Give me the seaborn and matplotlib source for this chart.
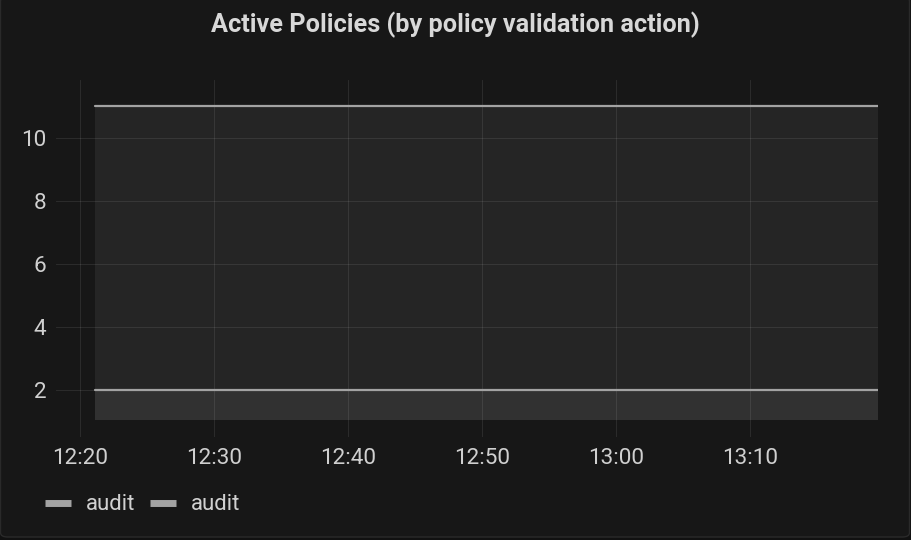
import matplotlib
matplotlib.use("Agg")
import matplotlib.pyplot as plt
import matplotlib.dates as mdates
from matplotlib.lines import Line2D
from matplotlib.patches import FancyBboxPatch
import pandas as pd
import seaborn as sns

# ---- data ----
title = "Active Policies (by policy validation action)"
times = ["2024-01-01 12:21:07", "2024-01-01 13:19:33"]
series_names = ["audit", "audit"]
audit_1 = [11, 11]
audit_2 = [2, 2]
x_view_start = "2024-01-01 12:18:12"
y_ticks = [2, 4, 6, 8, 10]

# ---- style ----
BG = "#171717"
TEXT = "#d0d0d0"
LINE = "#a3a3a3"
FILL_BASE = 1.048
YLIM = (0.508, 11.841)

sns.set_theme(style="dark")
plt.rcParams["font.family"] = ["Roboto", "DejaVu Sans"]

t = pd.to_datetime(times)
df = pd.concat([
    pd.DataFrame({"time": t, "value": audit_1, "series": "s1"}),
    pd.DataFrame({"time": t, "value": audit_2, "series": "s2"}),
])

fig = plt.figure(figsize=(9.12, 5.4), dpi=100, facecolor="#111111")
panel = FancyBboxPatch((0.5 / 912, 3 / 540), 909 / 912, 540 / 540,
                       boxstyle="round,pad=0,rounding_size=0.008",
                       transform=fig.transFigure, facecolor=BG,
                       edgecolor="#2a2a2a", linewidth=1.0, zorder=-5)
fig.patches.append(panel)

ax = fig.add_axes([56 / 912, 1 - 437 / 540, (878 - 56) / 912, (437 - 80) / 540])
ax.set_facecolor("none")
ax.set_zorder(2)

for vals in (audit_1, audit_2):
    ax.fill_between(t, FILL_BASE, vals, color=LINE, alpha=0.1, linewidth=0, zorder=1)

sns.lineplot(data=df, x="time", y="value", hue="series",
             palette=[LINE, LINE], linewidth=1.6, legend=False, ax=ax, zorder=3)

ax.set_xlim(pd.Timestamp(x_view_start), t[-1])
ax.set_ylim(*YLIM)
ax.set_yticks(y_ticks)
ax.xaxis.set_major_locator(mdates.MinuteLocator(byminute=[0, 10, 20, 30, 40, 50]))
ax.xaxis.set_major_formatter(mdates.DateFormatter("%H:%M"))
ax.set_xlabel("")
ax.set_ylabel("")
for s in ax.spines.values():
    s.set_visible(False)
ax.set_axisbelow(True)
ax.grid(True, color="white", alpha=0.09, linewidth=0.8)
ax.tick_params(axis="both", length=0, labelsize=16.2, colors=TEXT)
ax.tick_params(axis="x", pad=8)
ax.tick_params(axis="y", pad=7)

fig.text(455 / 912, 1 - 25 / 540, title, ha="center", va="center",
         fontsize=18.2, fontweight="bold", color="#d8d8d8", zorder=3)

handles = [Line2D([], [], color=LINE, linewidth=5, solid_capstyle="butt")
           for _ in series_names]
leg = fig.legend(handles, series_names, loc="center left",
                 bbox_to_anchor=(45 / 912, 1 - 505 / 540), ncol=2,
                 frameon=False, fontsize=16, handlelength=1.18,
                 handletextpad=0.64, columnspacing=0.68,
                 borderpad=0, borderaxespad=0)
leg.set_zorder(3)
for txt in leg.get_texts():
    txt.set_color(TEXT)

fig.savefig("out.png", dpi=100, facecolor=fig.get_facecolor())
